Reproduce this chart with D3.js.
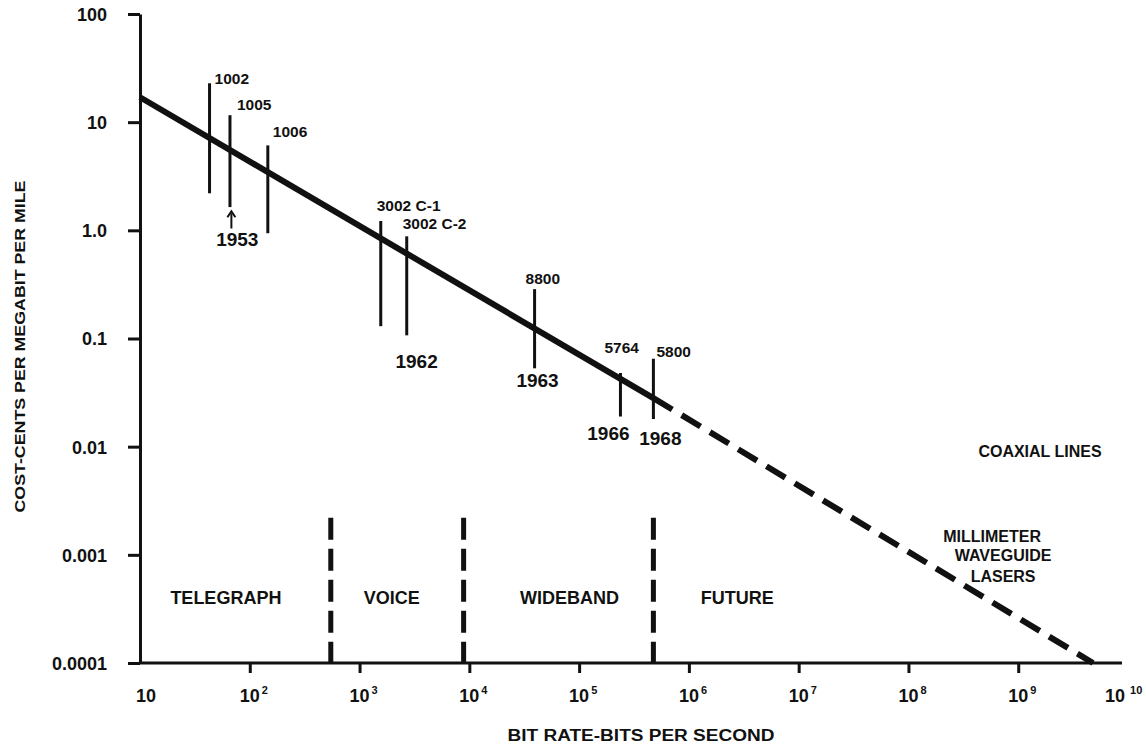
<!DOCTYPE html>
<html><head><meta charset="utf-8">
<script src="https://cdn.jsdelivr.net/npm/d3@7"></script>
<style>
body{margin:0;background:#fff;}
svg text{font-family:"Liberation Sans",Arial,Helvetica,sans-serif;font-weight:bold;fill:#111;}
</style></head><body>
<svg id="chart" width="1146" height="749"></svg>
<script>
// ---------- data ----------
const xTickValues = [10, 1e2, 1e3, 1e4, 1e5, 1e6, 1e7, 1e8, 1e9, 1e10];
const xTickExponents = ["", "2", "3", "4", "5", "6", "7", "8", "9", "10"];
const xMarkValues = [1e2, 1e3, 1e4, 1e5, 1e6, 1e7, 1e8, 1e9];
const yTickValues = [100, 10, 1, 0.1, 0.01, 0.001, 0.0001];
const yTickLabels = ["100", "10", "1.0", "0.1", "0.01", "0.001", "0.0001"];

const trendSolid = [[10, 17.0], [475000, 0.0281]];
const trendDashed = [[475000, 0.0281], [4.8e9, 0.0001]];

const equipNames = ["1002", "1005", "1006", "3002 C-1", "3002 C-2", "8800", "5764", "5800"];
const equipRate = [43, 66, 146, 1560, 2690, 39300, 238000, 475000];
const equipHigh = [22.9, 11.6, 6.1, 1.22, 0.88, 0.286, 0.048, 0.065];
const equipLow = [2.2, 1.64, 0.94, 0.130, 0.107, 0.053, 0.019, 0.018];

const yearNames = ["1953", "1962", "1963", "1966", "1968"];
const yearRate = [77, 3311, 41800, 185000, 550000];
const yearCost = [0.80, 0.059, 0.0395, 0.0128, 0.0115];

const arrowRate = 68, arrowTail = 1.04, arrowHead = 1.50;

const boundaryRate = [547, 8870, 475000];
const boundaryTop = 0.0022;

const regionNames = ["TELEGRAPH", "VOICE", "WIDEBAND", "FUTURE"];
const regionRate = [60.6, 1963, 81800, 2.76e6];
const regionCost = 0.00039;

const mediaNames = ["COAXIAL LINES", "MILLIMETER", "WAVEGUIDE", "LASERS"];
const mediaRate = [1.58e9, 5.78e8, 7.28e8, 7.28e8];
const mediaCost = [0.0087, 0.00143, 0.00095, 0.00062];

// ---------- layout ----------
const svg = d3.select("#chart");
const x = d3.scaleLog().domain([10, 1e10]).range([140, 1128]);
const y = d3.scaleLog().domain([1e-4, 100]).range([663, 14]);
const ink = "#111";

// y axis
const yAxis = d3.axisLeft(y).tickValues(yTickValues)
  .tickFormat((d, i) => yTickLabels[i]).tickSize(12).tickPadding(21).tickSizeOuter(0);
const gy = svg.append("g").attr("transform", `translate(${x(10)},0)`).call(yAxis);
gy.select(".domain").attr("stroke", ink).attr("stroke-width", 3);
gy.selectAll(".tick line").attr("stroke", ink).attr("stroke-width", 3);
gy.selectAll(".tick text").style("font-size", "18px").attr("fill", ink).attr("dy", "0.36em");

// x axis
const xAxis = d3.axisBottom(x).tickValues(xMarkValues).tickFormat("").tickSize(10).tickSizeOuter(0);
const gx = svg.append("g").attr("transform", `translate(0,${y(1e-4)})`).call(xAxis);
gx.select(".domain").attr("stroke", ink).attr("stroke-width", 3)
  .attr("d", `M${x(10)},0H${x(1e10) - 6}`);
gx.selectAll(".tick line").attr("stroke", ink).attr("stroke-width", 3);

// x tick labels with superscripts
const xLabelShift = (i) => i === 0 ? -4 : (i === xTickValues.length - 1 ? -23 : -10);
const xl = svg.append("g").selectAll("text").data(xTickValues).join("text")
  .attr("x", (d, i) => x(d) + xLabelShift(i))
  .attr("y", y(1e-4) + 39)
  .style("font-size", "18px");
xl.append("tspan").text("10");
xl.append("tspan").text((d, i) => xTickExponents[i])
  .attr("dx", (d, i) => i === xTickValues.length - 1 ? 5 : 2).attr("dy", -8).style("font-size", "11px");

// axis titles
svg.append("text").attr("transform", `translate(25,${(y(1e-4) + y(100)) / 2 + 8}) rotate(-90)`)
  .attr("text-anchor", "middle").style("font-size", "15px")
  .attr("textLength", 332).attr("lengthAdjust", "spacingAndGlyphs")
  .text("COST-CENTS PER MEGABIT PER MILE");
svg.append("text").attr("x", 641).attr("y", 741).attr("text-anchor", "middle")
  .style("font-size", "16px").attr("textLength", 267).attr("lengthAdjust", "spacingAndGlyphs")
  .text("BIT RATE-BITS PER SECOND");

// region boundaries
svg.append("g").selectAll("line").data(boundaryRate).join("line")
  .attr("x1", d => x(d)).attr("x2", d => x(d))
  .attr("y1", y(boundaryTop)).attr("y2", y(1e-4))
  .attr("stroke", ink).attr("stroke-width", 5)
  .attr("stroke-dasharray", "22,9");

// region labels
svg.append("g").selectAll("text").data(regionNames).join("text")
  .attr("x", (d, i) => x(regionRate[i])).attr("y", y(regionCost))
  .attr("text-anchor", "middle").attr("dominant-baseline", "middle")
  .style("font-size", "18px").text(d => d);

// trend lines
const line = d3.line().x(d => x(d[0])).y(d => y(d[1]));
svg.append("path").datum(trendSolid).attr("d", line)
  .attr("fill", "none").attr("stroke", ink).attr("stroke-width", 6);
svg.append("path").datum(trendDashed).attr("d", line)
  .attr("fill", "none").attr("stroke", ink).attr("stroke-width", 6)
  .attr("stroke-dasharray", "22,11");

// equipment range bars
const labelOffsets = [[5, 1], [7, -5], [5, -8], [-4, -10], [-4, -7], [-9, -5], [-16, -20], [3, -2]];
const eq = svg.append("g").selectAll("g").data(equipNames).join("g");
eq.append("line")
  .attr("x1", (d, i) => x(equipRate[i])).attr("x2", (d, i) => x(equipRate[i]))
  .attr("y1", (d, i) => y(equipHigh[i])).attr("y2", (d, i) => y(equipLow[i]))
  .attr("stroke", ink).attr("stroke-width", 3);
eq.append("text")
  .attr("x", (d, i) => x(equipRate[i]) + labelOffsets[i][0])
  .attr("y", (d, i) => y(equipHigh[i]) + labelOffsets[i][1])
  .style("font-size", "15.5px").text(d => d);

// year labels
svg.append("g").selectAll("text").data(yearNames).join("text")
  .attr("x", (d, i) => x(yearRate[i])).attr("y", (d, i) => y(yearCost[i]))
  .attr("text-anchor", "middle").attr("dominant-baseline", "middle")
  .style("font-size", "19px").text(d => d);

// arrow for 1953
const ax = x(arrowRate);
svg.append("line").attr("x1", ax).attr("x2", ax)
  .attr("y1", y(arrowTail)).attr("y2", y(arrowHead) + 2)
  .attr("stroke", ink).attr("stroke-width", 2);
svg.append("path")
  .attr("d", `M${ax - 4},${y(arrowHead) + 6} L${ax},${y(arrowHead)} L${ax + 4},${y(arrowHead) + 6}`)
  .attr("fill", "none").attr("stroke", ink).attr("stroke-width", 2);

// media labels
svg.append("g").selectAll("text").data(mediaNames).join("text")
  .attr("x", (d, i) => x(mediaRate[i])).attr("y", (d, i) => y(mediaCost[i]))
  .attr("text-anchor", "middle").attr("dominant-baseline", "middle")
  .style("font-size", "16px").text(d => d);
</script>
</body></html>
